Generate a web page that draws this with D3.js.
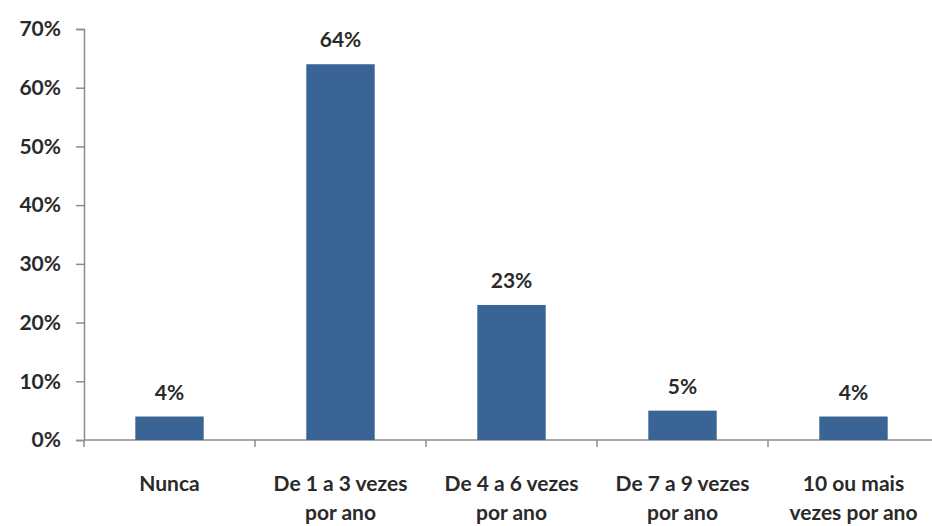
<!DOCTYPE html>
<html>
<head>
<meta charset="utf-8">
<script src="https://cdn.jsdelivr.net/npm/d3@7/dist/d3.min.js"></script>
<style>
  html, body { margin: 0; padding: 0; background: #fff; }
  svg { display: block; }
  text { font-family: Lato, "Open Sans", sans-serif; fill: #2a2a2a; }
</style>
</head>
<body>
<svg id="chart" width="932" height="526"></svg>
<script>
// Frequency categories (two-line labels) and their shares in percent
const categories = ["Nunca", "De 1 a 3 vezes por ano", "De 4 a 6 vezes por ano", "De 7 a 9 vezes por ano", "10 ou mais vezes por ano"];
const labelLines = [["Nunca"], ["De 1 a 3 vezes", "por ano"], ["De 4 a 6 vezes", "por ano"], ["De 7 a 9 vezes", "por ano"], ["10 ou mais", "vezes por ano"]];
const values = [4, 64, 23, 5, 4];
const yTicks = [0, 10, 20, 30, 40, 50, 60, 70];

(function drawChart() {
  const svg = d3.select("#chart");
  const plotLeft = 84, plotRight = 939, plotTop = 29, plotBottom = 440;
  const fontSize = 21;

  const x = d3.scaleBand().domain(categories).range([plotLeft, plotRight]).paddingInner(0.6).paddingOuter(0.3);
  const xOuter = d3.scaleBand().domain(categories).range([plotLeft, plotRight]);
  const y = d3.scaleLinear().domain([0, 70]).range([plotBottom, plotTop]);

  // Y axis
  const yAxis = svg.append("g").attr("transform", `translate(${plotLeft},0)`)
    .call(d3.axisLeft(y).tickValues(yTicks).tickFormat(d => d + "%").tickSize(8).tickPadding(15));
  yAxis.select(".domain").attr("stroke", "#8c8c8c").attr("stroke-width", 1.5);
  yAxis.selectAll(".tick line").attr("stroke", "#8c8c8c").attr("stroke-width", 1.5);
  yAxis.selectAll(".tick text").attr("font-size", fontSize).attr("font-weight", 700).attr("fill", "#2a2a2a")
    .style("font-family", "Lato, sans-serif");

  // X axis baseline and category separators
  svg.append("line").attr("x1", plotLeft).attr("x2", plotRight).attr("y1", plotBottom).attr("y2", plotBottom)
    .attr("stroke", "#8c8c8c").attr("stroke-width", 1.5);
  svg.selectAll(".sep").data(categories).join("line")
    .attr("x1", d => xOuter(d)).attr("x2", d => xOuter(d))
    .attr("y1", plotBottom).attr("y2", plotBottom + 7)
    .attr("stroke", "#8c8c8c").attr("stroke-width", 1.5);

  // Bars
  svg.selectAll(".bar").data(values).join("rect")
    .attr("x", (d, i) => x(categories[i]))
    .attr("y", d => y(d))
    .attr("width", x.bandwidth())
    .attr("height", d => plotBottom - y(d))
    .attr("fill", "#3a6495");

  // Value labels
  svg.selectAll(".val").data(values).join("text")
    .attr("x", (d, i) => x(categories[i]) + x.bandwidth() / 2)
    .attr("y", d => y(d) - 17)
    .attr("text-anchor", "middle")
    .attr("font-size", fontSize)
    .attr("font-weight", 700)
    .text(d => d + "%");

  // Category labels
  const cat = svg.selectAll(".cat").data(categories).join("text")
    .attr("y", 491)
    .attr("text-anchor", "middle")
    .attr("font-size", fontSize)
    .attr("font-weight", 700);
  cat.each(function(d, i) {
    const t = d3.select(this);
    labelLines[i].forEach((line, j) => {
      t.append("tspan").attr("x", xOuter(d) + xOuter.bandwidth() / 2).attr("dy", j === 0 ? 0 : 29).text(line);
    });
  });
})();
</script>
</body>
</html>
